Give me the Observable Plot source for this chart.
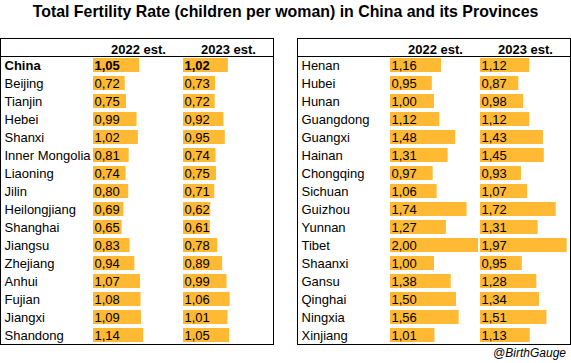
<!DOCTYPE html>
<html>
<head>
<meta charset="utf-8">
<script src="https://cdn.jsdelivr.net/npm/d3@7"></script>
<script src="https://cdn.jsdelivr.net/npm/@observablehq/plot@0.6"></script>
<style>
  html, body { margin: 0; padding: 0; background: #fff; }
  body { width: 571px; height: 363px; position: relative; overflow: hidden; font-family: "Liberation Sans", Arial, sans-serif; }
  #title { position: absolute; left: 0; top: 3px; width: 571px; text-align: center; font-weight: bold; font-size: 15.9px; line-height: 18px; color: #000; }
  .panel { position: absolute; top: 38px; width: 274px; height: 307px; box-sizing: border-box; border: 1px solid #000; }
  .sep { position: absolute; left: 0; top: 17px; width: 100%; height: 1px; background: #000; }
  .panel svg { position: absolute; left: 0; top: 0; }
  #credit { position: absolute; right: 5px; top: 346px; font-style: italic; font-size: 12px; line-height: 14px; color: #000; }
</style>
</head>
<body>
<div id="title">Total Fertility Rate (children per woman) in China and its Provinces</div>
<div class="panel" id="left" style="left:0px"><div class="sep"></div></div>
<div class="panel" id="right" style="left:297px"><div class="sep"></div></div>
<div id="credit">@BirthGauge</div>
<script>
const years = ["2022 est.", "2023 est."];

const leftRegions = ["China", "Beijing", "Tianjin", "Hebei", "Shanxi", "Inner Mongolia", "Liaoning", "Jilin",
  "Heilongjiang", "Shanghai", "Jiangsu", "Zhejiang", "Anhui", "Fujian", "Jiangxi", "Shandong"];
const left2022 = [1.05, 0.72, 0.75, 0.99, 1.02, 0.81, 0.74, 0.80, 0.69, 0.65, 0.83, 0.94, 1.07, 1.08, 1.09, 1.14];
const left2023 = [1.02, 0.73, 0.72, 0.92, 0.95, 0.74, 0.75, 0.71, 0.62, 0.61, 0.78, 0.89, 0.99, 1.06, 1.01, 1.05];

const rightRegions = ["Henan", "Hubei", "Hunan", "Guangdong", "Guangxi", "Hainan", "Chongqing", "Sichuan",
  "Guizhou", "Yunnan", "Tibet", "Shaanxi", "Gansu", "Qinghai", "Ningxia", "Xinjiang"];
const right2022 = [1.16, 0.95, 1.00, 1.12, 1.48, 1.31, 0.97, 1.06, 1.74, 1.27, 2.00, 1.00, 1.38, 1.50, 1.56, 1.01];
const right2023 = [1.12, 0.87, 0.98, 1.12, 1.43, 1.45, 0.93, 1.07, 1.72, 1.31, 1.97, 0.95, 1.28, 1.34, 1.51, 1.13];

const barColor = "#ffb933";
const fmt = v => v.toFixed(2).replace(".", ",");

function makePanel(regions, v22, v23) {
  const data = [];
  regions.forEach((r, i) => {
    data.push({region: r, year: years[0], value: v22[i]});
    data.push({region: r, year: years[1], value: v23[i]});
  });
  const boldName = "China";
  const chart = Plot.plot({
    width: 272,
    height: 305,
    marginLeft: 92,
    marginRight: 0,
    marginTop: 17,
    marginBottom: 0,
    facetMarginTop: 0,
    style: {fontFamily: "'Liberation Sans', Arial, sans-serif", fontSize: "13px", background: "transparent", overflow: "visible", color: "#000"},
    x: {domain: [0, 90 / 44], axis: null},
    y: {domain: regions, range: [17, 305], paddingInner: 0.22, paddingOuter: 0.11, label: null},
    fx: {domain: years, padding: 0, label: null},
    marks: [
      Plot.barX(data, {x: "value", y: "region", fx: "year", fill: barColor}),
      Plot.text(data.filter(d => d.region !== boldName), {x: 0, y: "region", fx: "year", text: d => fmt(d.value), textAnchor: "start", dx: 1, fill: "#000"}),
      Plot.text(data.filter(d => d.region === boldName), {x: 0, y: "region", fx: "year", text: d => fmt(d.value), textAnchor: "start", dx: 1, fill: "#000", fontWeight: "bold"}),
      Plot.axisY({tickSize: 0, tickPadding: 0, textAnchor: "start", dx: -89, label: null, fill: "#000"}),
      Plot.axisFx({anchor: "top", tickSize: 0, tickPadding: 3, label: null, fontWeight: "bold", fill: "#000"})
    ]
  });
  d3.select(chart).selectAll("text").filter(function() { return this.textContent === boldName; }).attr("font-weight", "bold");
  return chart;
}

document.getElementById("left").appendChild(makePanel(leftRegions, left2022, left2023));
document.getElementById("right").appendChild(makePanel(rightRegions, right2022, right2023));
</script>
</body>
</html>
